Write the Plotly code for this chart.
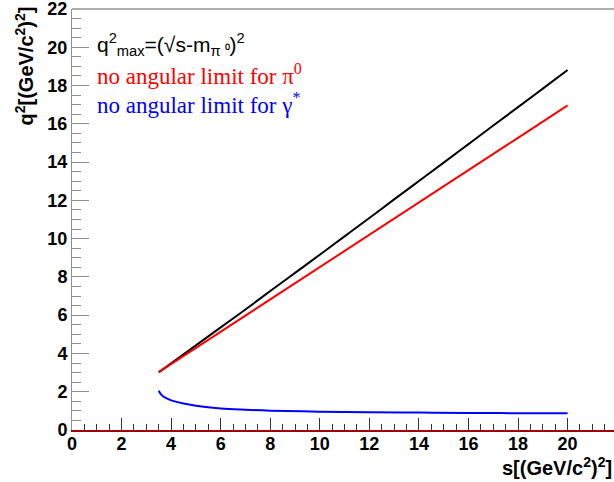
import plotly.graph_objects as go

# ---- data ----
s_black = [3.5, 4, 5, 6, 7, 8, 9, 10, 11, 12, 13, 14, 15, 16, 17, 18, 19, 20]
q2_black = [3.01, 3.48, 4.42, 5.36, 6.30, 7.26, 8.21, 9.16, 10.12, 11.08, 12.05,
            13.01, 13.97, 14.94, 15.91, 16.87, 17.84, 18.81]

s_red = [3.5, 6, 9, 12, 15, 18, 20]
q2_red = [3.02, 5.14, 7.67, 10.20, 12.73, 15.27, 16.96]

s_blue = [3.5, 3.6, 3.8, 4.0, 4.5, 5, 6, 7, 8, 10, 12, 14, 16, 18, 20]
q2_blue = [2.05, 1.85, 1.66, 1.55, 1.38, 1.27, 1.13, 1.06, 1.01, 0.96, 0.93,
           0.91, 0.89, 0.88, 0.87]

x_ticks = [0, 2, 4, 6, 8, 10, 12, 14, 16, 18, 20]
y_ticks = [0, 2, 4, 6, 8, 10, 12, 14, 16, 18, 20, 22]

# ---- layout geometry (pixels) ----
W, H = 614, 482
L, R, T, B = 72, 614, 9, 430


def px(x):
    return (x - L) / (R - L)


def py(y):
    return (B - y) / (B - T)


fig = go.Figure()
fig.add_trace(go.Scatter(x=s_black, y=q2_black, mode="lines",
                         line=dict(color="black", width=2), line_shape="spline"))
fig.add_trace(go.Scatter(x=s_red, y=q2_red, mode="lines",
                         line=dict(color="#ff0000", width=2)))
fig.add_trace(go.Scatter(x=s_blue, y=q2_blue, mode="lines",
                         line=dict(color="#0000ff", width=2), line_shape="spline"))

tickfont = dict(family="Liberation Sans, Arial", size=18, color="black", weight="bold")

fig.update_layout(
    width=W, height=H,
    margin=dict(l=L, r=W - R, t=T, b=H - B, pad=0, autoexpand=False),
    paper_bgcolor="white", plot_bgcolor="white",
    showlegend=False,
    xaxis=dict(range=[0, (R - L) / 24.78], tickvals=x_ticks, automargin=False,
               ticks="inside", ticklen=12, tickwidth=1, tickcolor="#333333",
               showgrid=False, zeroline=False, ticklabeloverflow="allow",
               ticklabelstandoff=-4,
               showline=True, linecolor="#a00000", linewidth=2,
               tickfont=tickfont,
               minor=dict(ticks="inside", ticklen=6, dtick=0.5, tickcolor="#333333",
                          showgrid=False)),
    yaxis=dict(range=[0, 22.0001], tickvals=y_ticks, automargin=False,
               ticks="inside", ticklen=17, tickwidth=1, tickcolor="#909090",
               showgrid=False, zeroline=False, ticklabeloverflow="allow",
               showline=True, linecolor="#909090", linewidth=1,
               tickfont=tickfont,
               minor=dict(ticks="inside", ticklen=9, dtick=0.5, tickcolor="#909090",
                          showgrid=False)),
)

# top frame line
fig.add_shape(type="line", xref="paper", yref="paper", x0=0, x1=1, y0=1, y1=1,
              line=dict(color="#909090", width=1.5))

titlefont = dict(family="Liberation Sans, Arial", size=20, color="black")
# axis titles
fig.add_annotation(xref="paper", yref="paper", x=px(614), y=py(466),
                   xanchor="right", yanchor="middle", showarrow=False,
                   text="<b>s[(GeV/c<sup>2</sup>)<sup>2</sup>]</b>", font=titlefont)
fig.add_annotation(xref="paper", yref="paper", x=px(24), y=py(5),
                   xanchor="center", yanchor="top", showarrow=False, textangle=-90,
                   text="<b>q<sup>2</sup>[(GeV/c<sup>2</sup>)<sup>2</sup>]</b>", font=titlefont)

# legend-like texts
fig.add_annotation(xref="paper", yref="paper", x=px(95), y=py(45),
                   xanchor="left", yanchor="middle", showarrow=False,
                   text="q<sup>2</sup><sub>max</sub>=(√s-m<sub>π ⁰</sub>)<sup>2</sup>",
                   font=dict(family="Liberation Sans, Arial", size=21, color="black"))
fig.add_annotation(xref="paper", yref="paper", x=px(95), y=py(75),
                   xanchor="left", yanchor="middle", showarrow=False,
                   text="no angular limit for π<sup>0</sup>",
                   font=dict(family="Liberation Serif, Times New Roman", size=23, color="#ff0000"))
fig.add_annotation(xref="paper", yref="paper", x=px(95), y=py(104),
                   xanchor="left", yanchor="middle", showarrow=False,
                   text="no angular limit for γ<sup>*</sup>",
                   font=dict(family="Liberation Serif, Times New Roman", size=23, color="#0000ff"))

fig.write_html("out.html", config={"displayModeBar": False},
               post_script="document.body.style.margin='0';document.body.style.overflow='hidden';")
